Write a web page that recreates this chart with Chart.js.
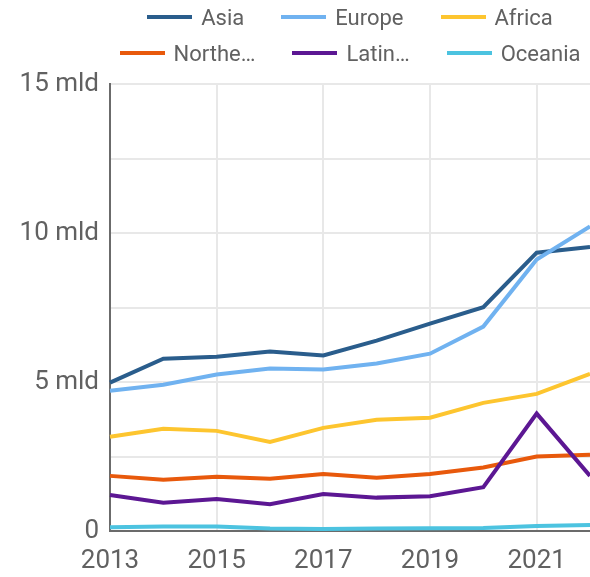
<!DOCTYPE html>
<html><head><meta charset="utf-8">
<script src="https://cdn.jsdelivr.net/npm/chart.js@4/dist/chart.umd.min.js"></script>
<style>
html,body{margin:0;padding:0;background:#fff;overflow:hidden;}
#wrap{position:relative;width:590px;height:577px;}
#legend{position:absolute;left:110px;top:-1px;width:480px;font-family:Roboto,sans-serif;font-size:22px;color:#616161;}
.row{display:flex;justify-content:center;height:36px;align-items:center;white-space:nowrap;}
.item{display:flex;align-items:center;margin:0 18.5px;}
.sw{width:45px;height:4px;margin-right:9px;}
canvas{position:absolute;left:0;top:0;}
</style></head>
<body>
<div id="wrap">
<canvas id="c" width="590" height="577"></canvas>
<div id="legend"></div>
</div>
<script>
const years = ['2013','2014','2015','2016','2017','2018','2019','2020','2021','2022'];
const seriesNames = ['Asia','Europe','Africa','Northern America','Latin America and the Caribbean','Oceania'];
const legendNames = ['Asia','Europe','Africa','Northe…','Latin…','Oceania'];
const colors = ['#2a5d8c','#70b2f0','#fdc52f','#e8590c','#5c1793','#4cc3e0'];
const asia = [4.98, 5.78, 5.85, 6.02, 5.89, 6.39, 6.96, 7.51, 9.34, 9.53];
const europe = [4.71, 4.91, 5.25, 5.45, 5.42, 5.62, 5.95, 6.86, 9.11, 10.22];
const africa = [3.16, 3.43, 3.36, 2.99, 3.46, 3.73, 3.80, 4.30, 4.60, 5.27];
const northAmerica = [1.85, 1.72, 1.82, 1.75, 1.91, 1.79, 1.91, 2.13, 2.50, 2.56];
const latinAmerica = [1.21, 0.95, 1.07, 0.90, 1.24, 1.12, 1.17, 1.47, 3.94, 1.85];
const oceania = [0.13, 0.15, 0.15, 0.08, 0.07, 0.08, 0.09, 0.10, 0.17, 0.20];
const yMax = 15, yStep = 2.5;

const allSeries = [asia, europe, africa, northAmerica, latinAmerica, oceania];

// HTML legend (real text)
const lg = document.getElementById('legend');
[[0,1,2],[3,4,5]].forEach(r => {
  const row = document.createElement('div'); row.className = 'row';
  r.forEach(i => {
    const it = document.createElement('div'); it.className = 'item';
    const sw = document.createElement('span'); sw.className = 'sw'; sw.style.background = colors[i];
    const tx = document.createElement('span'); tx.textContent = legendNames[i];
    it.appendChild(sw); it.appendChild(tx); row.appendChild(it);
  });
  lg.appendChild(row);
});

const tickFont = {family: 'Roboto', size: 26};
new Chart(document.getElementById('c'), {
  type: 'line',
  data: {
    labels: years,
    datasets: allSeries.map((d, i) => ({
      label: seriesNames[i],
      data: d,
      borderColor: colors[i],
      backgroundColor: colors[i],
      borderWidth: 4,
      pointRadius: 0,
      tension: 0,
      fill: false,
      order: allSeries.length - i
    }))
  },
  options: {
    responsive: false,
    animation: false,
    layout: {padding: {top: 84, left: 0, right: 0, bottom: 0}},
    plugins: {legend: {display: false}, tooltip: {enabled: false}},
    scales: {
      x: {
        type: 'category',
        offset: false,
        afterFit: s => { s.height = 46; s.paddingRight = 0; s.paddingTop = 0; s.paddingBottom = 0; },
        grid: {
          drawTicks: false,
          lineWidth: 2,
          color: ctx => (ctx.index % 2 === 0 ? '#e8e8e8' : 'rgba(0,0,0,0)')
        },
        border: {color: '#6b6b6b', width: 2},
        ticks: {
          autoSkip: false,
          maxRotation: 0,
          padding: 15,
          color: '#616161',
          font: tickFont,
          callback: function(v, i) { return i % 2 === 0 ? this.getLabelForValue(v) : ''; }
        }
      },
      y: {
        min: 0, max: yMax,
        afterFit: s => { s.width = 110; s.paddingTop = 0; s.paddingBottom = 0; },
        grid: {drawTicks: false, lineWidth: 2, color: '#e8e8e8'},
        border: {color: '#6b6b6b', width: 2},
        ticks: {
          stepSize: yStep,
          padding: 11,
          color: '#616161',
          font: tickFont,
          callback: v => (v === 0 ? '0' : (v % 5 === 0 ? v + ' mld' : ''))
        }
      }
    }
  }
});
</script>
</body></html>
